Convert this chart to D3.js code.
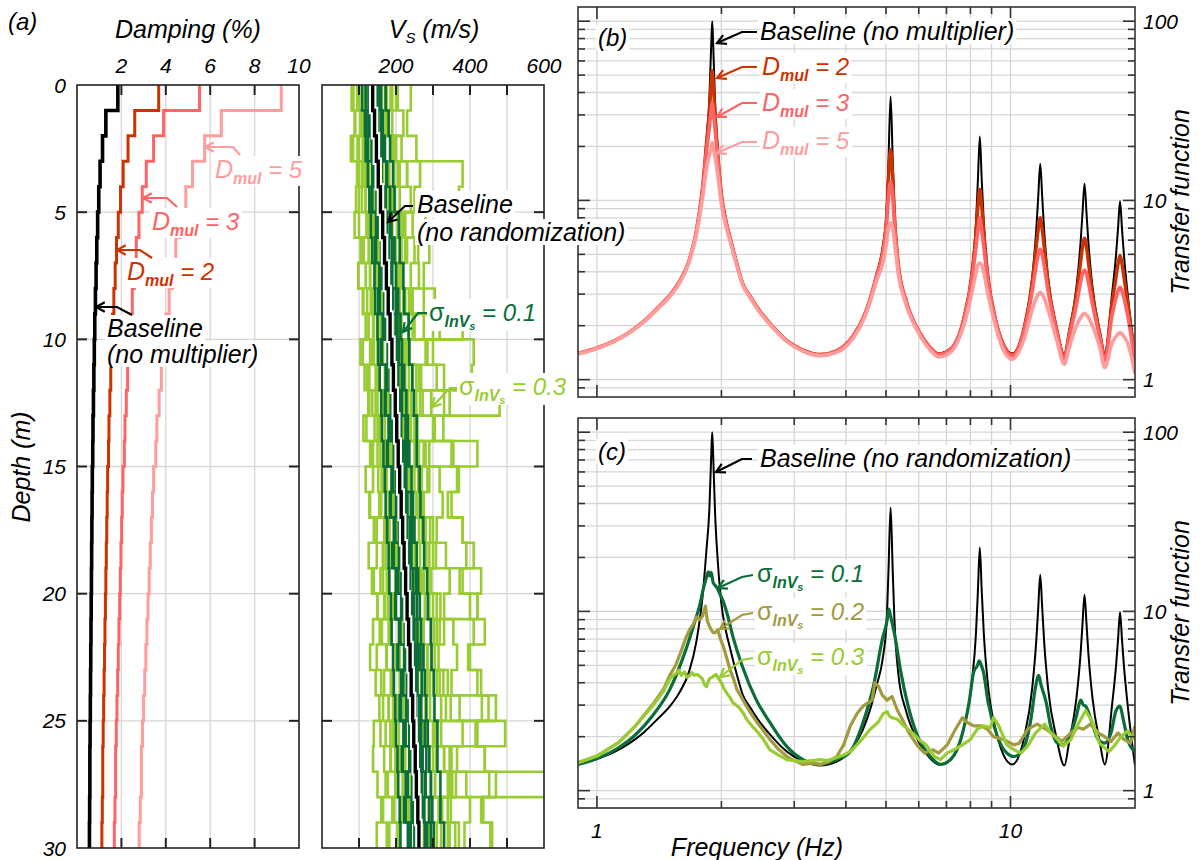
<!DOCTYPE html>
<html>
<head>
<meta charset="utf-8">
<script src="https://cdn.jsdelivr.net/npm/d3@7"></script>
<style>
body{margin:0;background:#fff;}
text{font-family:"Liberation Sans",Arial,sans-serif;font-style:italic;}
</style>
</head>
<body>
<script>
// ---- data ----
var layerDepth = [0,1,2,3,4,5,6,7,8,9,10,11,12,13,14,15,16,17,18,19,20,21,22,23,24,25,26,27,28,29,30];

var dampBase = [1.84,1.30,1.15,1.04,0.98,0.93,0.89,0.86,0.83,0.80,0.78,0.76,0.74,0.72,0.71,0.69,0.68,0.67,0.66,0.65,0.64,0.63,0.62,0.61,0.60,0.59,0.58,0.58,0.57,0.56];
var dampD2 = [3.68,2.60,2.30,2.08,1.96,1.86,1.78,1.72,1.66,1.60,1.56,1.52,1.48,1.44,1.42,1.38,1.36,1.34,1.32,1.30,1.28,1.26,1.24,1.22,1.20,1.18,1.16,1.16,1.14,1.12];
var dampD3 = [5.52,3.90,3.45,3.12,2.94,2.79,2.67,2.58,2.49,2.40,2.34,2.28,2.22,2.16,2.13,2.07,2.04,2.01,1.98,1.95,1.92,1.89,1.86,1.83,1.80,1.77,1.74,1.74,1.71,1.68];
var dampD5 = [9.2,6.5,5.75,5.2,4.9,4.65,4.45,4.3,4.15,4.0,3.9,3.8,3.7,3.6,3.55,3.45,3.4,3.35,3.3,3.25,3.2,3.15,3.1,3.05,3.0,2.95,2.9,2.9,2.85,2.8];

var vsBase = [137,142,147,152,158,164,169,174,179,184,189,193,198,202,206,210,214,218,222,226,230,234,238,241,245,248,252,255,259,262];

// randomized profiles, sigma lnVs = 0.3
var vsSig03 = [
 [85,90,78,95,100,88,105,98,110,120,104,115,125,112,130,118,128,140,126,135,150,138,130,145,155,140,138,150,160,148],
 [100,110,96,108,118,125,112,130,122,140,135,128,145,150,138,152,160,148,165,158,170,162,175,168,180,172,185,178,190,182],
 [115,105,125,118,130,140,128,145,135,150,160,148,165,155,172,168,180,170,185,178,195,188,200,192,205,198,210,200,215,208],
 [120,128,110,380,370,135,150,142,158,165,150,170,178,160,185,175,190,182,198,205,190,210,200,215,222,208,225,218,230,238],
 [130,145,138,150,142,160,170,158,175,168,185,178,195,188,205,196,210,220,205,225,215,235,226,240,230,250,238,255,248,262],
 [150,135,155,165,150,170,160,180,172,190,410,405,200,215,205,225,215,235,228,245,236,250,242,258,250,265,256,270,262,280],
 [160,150,170,165,180,175,195,185,205,198,215,208,480,225,235,228,245,238,255,248,265,258,275,268,280,275,290,650,295,288],
 [155,170,160,180,190,178,198,205,192,215,225,210,232,240,228,250,258,245,265,430,420,275,268,285,292,280,300,306,295,310],
 [175,165,185,195,180,205,215,200,225,235,220,245,255,240,262,270,258,280,290,275,300,310,296,318,470,310,330,340,325,345],
 [190,180,200,210,195,220,230,215,240,250,236,262,272,258,280,290,275,300,308,295,320,330,315,340,348,495,350,362,348,370],
 [205,220,200,230,240,225,250,262,245,275,285,268,295,305,290,318,326,310,335,345,330,355,365,350,372,380,365,390,400,385],
 [240,230,255,265,250,280,290,275,305,318,300,330,345,328,355,365,350,380,390,372,400,410,395,420,432,415,440,452,436,460],
 [98,104,112,100,118,124,112,130,138,126,140,148,136,155,150,162,156,170,165,175,168,180,174,186,180,192,186,198,192,204],
 [170,178,190,182,196,205,192,212,220,208,226,235,222,240,250,236,255,262,250,270,278,265,285,292,280,300,308,295,315,322],
 [125,118,132,140,128,148,155,142,162,170,158,175,182,170,190,196,184,202,210,198,215,222,210,228,235,222,240,246,235,250],
 [145,155,140,160,172,160,178,188,175,195,202,190,210,218,205,225,232,220,240,248,235,255,262,250,268,275,262,280,288,275],
 [95,105,100,112,108,120,126,118,132,138,130,145,150,142,158,162,155,168,172,165,178,182,175,188,192,185,198,202,195,208],
 [185,172,195,205,190,215,225,210,235,245,232,255,265,250,275,285,270,292,300,288,310,318,305,328,335,322,345,352,340,360],
 [200,190,215,230,210,245,260,240,275,300,280,310,330,300,350,370,340,380,410,380,420,440,400,430,450,420,440,470,430,455],
 [80,88,84,95,92,100,105,98,112,118,110,122,128,120,132,138,130,142,148,140,150,156,148,160,165,158,168,172,165,175],
 [150,165,158,175,168,190,200,185,210,380,200,225,240,225,420,260,245,270,282,265,290,302,285,310,322,305,330,345,320,340],
 [110,122,115,128,135,125,142,150,138,158,165,152,172,180,168,188,195,182,202,208,196,215,222,210,228,235,222,240,246,235]
];

// randomized profiles, sigma lnVs = 0.1
var vsSig01 = [
 [118,126,124,136,134,146,144,155,152,164,160,172,170,180,176,188,184,194,190,200,198,208,204,214,210,220,216,226,222,232],
 [128,130,140,138,148,150,160,158,168,170,178,176,186,184,194,192,200,198,208,206,214,212,222,220,228,226,236,232,242,240],
 [132,140,138,150,148,158,166,164,172,180,178,186,194,190,198,206,202,210,218,214,222,230,226,234,240,236,244,250,246,254],
 [144,150,148,160,166,164,178,176,188,186,198,196,208,206,216,214,224,222,232,230,240,238,248,246,254,252,262,260,270,268],
 [150,152,162,160,172,176,178,190,188,200,202,206,216,214,224,226,230,238,236,246,248,250,260,258,266,268,272,278,276,284],
 [156,160,166,174,172,184,190,188,200,204,208,216,214,226,230,228,240,244,242,254,256,258,266,270,268,278,282,280,290,294],
 [128,120,134,140,136,150,146,160,156,166,162,176,172,182,178,190,186,196,194,204,200,210,206,216,214,222,218,230,226,236],
 [148,150,158,160,170,172,182,182,192,192,202,204,212,212,220,222,230,230,238,238,246,246,254,254,262,262,268,270,276,278],
 [126,136,142,144,152,156,162,166,172,174,182,184,190,192,198,200,204,208,212,216,220,224,226,230,234,236,240,244,246,250],
 [160,164,170,176,184,188,196,200,206,212,216,222,228,232,236,242,246,250,256,260,264,268,274,278,282,286,290,294,298,302],
 [172,180,184,192,196,208,210,220,222,234,236,244,248,256,256,264,266,274,276,284,286,294,296,302,304,312,312,320,320,330],
 [108,116,118,124,128,132,136,142,144,150,152,156,160,162,166,170,172,176,180,182,186,188,192,194,198,200,204,206,210,212]
];

// transfer functions, panel (b)
var freqB = [0.9,1.0,1.1,1.2,1.3,1.4,1.5,1.58,1.67,1.74,1.8,1.84,1.87,1.89,1.9,1.91,1.93,1.96,2.0,2.05,2.1,2.17,2.25,2.35,2.45,2.62,2.88,3.15,3.46,3.8,
 4.16,4.4,4.58,4.75,4.9,5.02,5.07,5.13,5.19,5.24,5.36,5.6,
 6.05,6.4,6.7,7.16,
 7.7,8.06,8.25,8.34,8.43,8.52,8.62,8.81,9.2,9.6,10.1,
 10.8,11.28,11.54,11.67,11.8,11.93,12.06,12.33,12.9,13.5,
 13.85,14.44,14.77,14.93,15.1,15.27,15.43,15.78,16.45,16.9,
 17.6,18.0,18.2,18.4,18.6,18.8,19.2,20];
var tfBase = [1.40,1.50,1.64,1.84,2.12,2.5,2.95,3.5,4.6,6.8,12,22,37,75,100,75,36,19,11,7.8,6.2,4.6,3.45,2.9,2.5,2.06,1.65,1.46,1.38,1.45,
 1.75,2.2,2.85,3.9,5.3,9,17,38,17,9,4.4,2.75,
 1.81,1.51,1.40,1.49,
 2.2,4.0,7.5,13,22.7,13,7.5,4.0,2.2,1.6,1.40,
 2.0,3.7,6.8,10.5,16,10.5,6.8,3.7,2.0,1.38,
 1.85,3.3,5.8,8.5,12.4,8.5,5.8,3.3,1.85,1.40,
 3.0,5.0,7.0,9.9,7.0,5.0,3.0,1.38];
var tfD2 = [1.40,1.50,1.64,1.84,2.12,2.5,2.95,3.5,4.6,6.75,11.7,20.6,31,46,53,46,30,18.2,10.8,7.7,6.15,4.6,3.45,2.9,2.5,2.06,1.65,1.46,1.38,1.45,
 1.75,2.2,2.84,3.86,5.15,8.3,13.4,19.2,13.4,8.3,4.3,2.73,
 1.81,1.51,1.39,1.48,
 2.17,3.83,6.5,9.2,11.5,9.2,6.5,3.83,2.17,1.58,1.38,
 1.96,3.44,5.5,6.9,8.0,6.9,5.5,3.44,1.96,1.35,
 1.79,3.0,4.5,5.5,6.15,5.5,4.5,3.0,1.79,1.35,
 2.65,3.76,4.43,4.95,4.43,3.76,2.65,1.32];
var tfD3 = [1.40,1.50,1.64,1.84,2.12,2.5,2.95,3.5,4.58,6.7,11.3,18.7,25.6,32,35,32,25,16.8,10.4,7.6,6.1,4.55,3.43,2.88,2.48,2.05,1.64,1.45,1.37,1.44,
 1.74,2.18,2.82,3.8,4.9,7.5,10.5,12.7,10.5,7.5,4.18,2.7,
 1.79,1.5,1.38,1.47,
 2.12,3.58,5.5,6.8,8.0,6.8,5.5,3.58,2.12,1.55,1.36,
 1.89,3.1,4.35,4.98,5.35,4.98,4.35,3.1,1.89,1.31,
 1.71,2.64,3.49,3.9,4.08,3.9,3.49,2.64,1.71,1.28,
 2.28,2.87,3.13,3.28,3.13,2.87,2.28,1.25];
var tfD5 = [1.39,1.49,1.63,1.83,2.1,2.47,2.9,3.42,4.5,6.45,10.3,15,17.9,19.7,21,19.7,17.6,13.8,9.5,7.2,5.9,4.45,3.38,2.85,2.45,2.03,1.63,1.44,1.36,1.42,
 1.7,2.12,2.72,3.6,4.37,5.9,7.0,7.5,7.0,5.9,3.82,2.6,
 1.75,1.46,1.34,1.42,
 1.99,3.03,3.95,4.37,4.46,4.37,3.95,3.03,1.99,1.47,1.30,
 1.7,2.45,2.85,3.0,3.07,3.0,2.85,2.45,1.7,1.22,
 1.5,2.0,2.22,2.3,2.34,2.3,2.22,2.0,1.5,1.17,
 1.6,1.74,1.8,1.83,1.8,1.74,1.6,1.08];

// transfer functions, panel (c): randomized Vs
var freqS1 = [0.9,1.0,1.13,1.24,1.36,1.5,1.64,1.72,1.77,1.81,1.84,1.86,1.875,1.89,1.91,1.94,1.96,1.99,2.01,2.06,2.13,2.25,2.43,2.62,2.88,3.15,3.46,3.8,4.1,4.4,4.66,4.9,5.03,5.08,5.12,5.17,5.27,5.43,5.63,5.97,6.4,6.77,7.16,7.58,7.94,8.15,8.32,8.4,8.5,8.6,8.83,9.3,9.8,10.2,10.7,11.2,11.5,11.7,11.85,12.2,12.5,13.0,13.4,14.0,14.4,14.8,15.0,15.2,15.6,16.3,16.9,17.5,18.0,18.4,18.7,19.2,20];
var tfS1 = [1.40,1.51,1.74,2.05,2.6,3.66,6.1,8.6,10.7,13.5,15.5,16.6,15.8,16.5,14.5,13.8,13.3,12.3,11.7,9.9,7.3,4.9,3.2,2.4,1.76,1.49,1.40,1.49,1.65,2.4,3.8,7.0,8.9,10.3,9.6,8.7,7.0,4.6,3.1,2.0,1.55,1.40,1.49,1.93,3.1,4.6,5.0,5.3,5.0,4.6,3.1,2.0,1.62,1.55,1.69,2.49,3.8,4.4,3.9,3.1,2.3,1.84,1.8,2.1,2.55,3.2,3.0,2.96,2.55,1.93,1.84,2.1,2.8,2.96,2.55,1.93,1.65];
var freqS2 = [0.9,1.0,1.13,1.24,1.36,1.45,1.5,1.55,1.58,1.61,1.64,1.68,1.71,1.74,1.77,1.8,1.83,1.85,1.87,1.89,1.91,1.93,1.96,1.99,2.02,2.06,2.1,2.14,2.18,2.24,2.3,2.37,2.44,2.53,2.62,2.75,2.88,3.0,3.15,3.3,3.47,3.63,3.8,3.95,4.1,4.26,4.4,4.53,4.63,4.7,4.8,4.9,5.03,5.17,5.33,5.48,5.68,5.97,6.2,6.5,6.7,7.03,7.36,7.65,7.86,8.15,8.5,8.8,9.1,9.6,10.2,10.5,11.0,11.6,12.2,12.9,13.3,14.0,14.6,15.0,15.6,16.3,16.9,17.5,18.2,18.8,19.5,20];
var tfS2 = [1.43,1.56,1.86,2.3,3.0,3.7,4.4,5.0,5.6,6.3,7.1,8.0,8.5,9.3,9.0,9.4,10.7,8.8,8.3,7.9,7.6,7.6,7.9,7.0,6.4,5.5,4.7,4.2,3.66,3.3,2.95,2.65,2.4,2.15,1.93,1.7,1.55,1.47,1.40,1.42,1.40,1.45,1.55,1.8,2.3,2.7,2.96,3.1,3.2,4.0,3.8,3.4,3.2,3.35,2.8,2.49,2.1,1.77,1.62,1.69,1.62,1.8,2.2,2.55,2.4,2.3,2.3,2.2,2.0,1.93,1.8,1.84,2.2,2.35,2.2,2.0,1.88,2.1,2.25,2.2,2.35,2.1,2.0,1.88,2.1,1.93,1.84,2.3];
var freqS3 = [0.9,1.0,1.13,1.24,1.36,1.45,1.5,1.55,1.58,1.6,1.63,1.65,1.67,1.7,1.72,1.75,1.78,1.8,1.82,1.84,1.87,1.9,1.94,1.97,2.0,2.03,2.06,2.1,2.13,2.17,2.21,2.26,2.3,2.37,2.44,2.52,2.62,2.75,2.88,3.0,3.15,3.3,3.47,3.6,3.8,3.95,4.1,4.33,4.58,4.78,4.93,5.03,5.1,5.17,5.33,5.52,5.8,6.0,6.25,6.55,6.77,7.03,7.3,7.65,8.0,8.3,8.6,8.93,9.1,9.37,9.8,10.2,10.6,11.0,11.5,12.1,12.5,13.0,13.4,14.0,14.5,15.2,15.8,16.4,17.3,17.8,18.5,19.2,20];
var tfS3 = [1.43,1.56,1.86,2.3,2.95,3.6,4.2,4.5,4.7,4.4,4.6,4.3,4.35,4.55,4.4,4.45,4.3,4.2,3.9,3.8,4.2,4.3,4.45,4.2,4.0,3.7,3.5,3.3,3.1,3.0,2.9,2.7,2.5,2.3,2.14,1.95,1.69,1.58,1.49,1.47,1.45,1.47,1.49,1.47,1.53,1.58,1.65,1.88,2.2,2.4,2.7,2.76,2.6,2.55,2.5,2.3,2.1,1.93,1.8,1.55,1.49,1.62,1.69,1.8,1.93,2.2,2.3,2.25,2.55,2.3,1.8,1.69,1.62,1.77,2.1,2.35,2.1,1.93,1.77,1.93,2.3,2.8,2.4,1.84,1.65,1.77,2.0,2.15,1.93];

// axis ticks / labels
var depthTicks = [0,5,10,15,20,25,30];
var dampGrid = [2,4,6,8];
var dampLabels = [2,4,6,8,10];
var vsGrid = [100,200,300,400,500];
var vsLabels = [200,400,600];
var tfLabels = [1,10,100];
var freqLabels = [1,10];

// ---- colours ----
var cBase = "#000", cD2 = "#cc3300", cD3 = "#ff6464", cD5 = "#ff9d9d";
var cS1 = "#0b6e38", cS2 = "#a19b3e", cS3 = "#99cc33";
var gridCol = "#d6d6d6";

var svg = d3.select("body").append("svg")
	.attr("width", 1203)
	.attr("height", 860)
	.style("background", "#fff");

var yDepth = d3.scaleLinear().domain([0,30]).range([85,848]);
var xDamp = d3.scaleLinear().domain([0,10]).range([77,299]);
var xVs = d3.scaleLinear().domain([0,600]).range([322,544]);
var xF = d3.scaleLog().domain([0.9,20]).range([578,1135]);
var yB = d3.scaleLog().domain([0.8,120]).range([397,7]);
var yC = d3.scaleLog().domain([0.8,120]).range([808,418]);

function stepPoints(vals){
	var pts = [];
	vals.forEach(function(v,i){
		pts.push([v, layerDepth[i]]);
		pts.push([v, layerDepth[i+1]]);
	});
	return pts;
};

// ---------- depth panels ----------
function depthPanel(xs, grid, id){
	var x0 = xs.range()[0], x1 = xs.range()[1], y0 = yDepth.range()[0], y1 = yDepth.range()[1];
	var g = svg.append("g");
	g.selectAll(".vg").data(grid).enter().append("line")
		.attr("x1", function(d){return xs(d);}).attr("x2", function(d){return xs(d);})
		.attr("y1", y0).attr("y2", y1)
		.attr("stroke", gridCol).attr("stroke-width", 1.3);
	g.selectAll(".hg").data(depthTicks.slice(1,-1)).enter().append("line")
		.attr("x1", x0).attr("x2", x1)
		.attr("y1", function(d){return yDepth(d);}).attr("y2", function(d){return yDepth(d);})
		.attr("stroke", gridCol).attr("stroke-width", 1.3);
	svg.append("clipPath").attr("id", id).append("rect")
		.attr("x", x0).attr("y", y0).attr("width", x1-x0).attr("height", y1-y0);
	return g.append("g").attr("clip-path", "url(#"+id+")");
};

function depthFrame(xs, grid){
	var x0 = xs.range()[0], x1 = xs.range()[1], y0 = yDepth.range()[0], y1 = yDepth.range()[1];
	var g = svg.append("g").attr("stroke", "#222").attr("stroke-width", 2);
	grid.forEach(function(d){
		g.append("line").attr("x1", xs(d)).attr("x2", xs(d)).attr("y1", y0).attr("y2", y0+10);
		g.append("line").attr("x1", xs(d)).attr("x2", xs(d)).attr("y1", y1).attr("y2", y1-10);
	});
	depthTicks.slice(1,-1).forEach(function(d){
		g.append("line").attr("x1", x0).attr("x2", x0+10).attr("y1", yDepth(d)).attr("y2", yDepth(d));
		g.append("line").attr("x1", x1).attr("x2", x1-10).attr("y1", yDepth(d)).attr("y2", yDepth(d));
	});
	g.append("rect").attr("x", x0).attr("y", y0).attr("width", x1-x0).attr("height", y1-y0)
		.attr("fill", "none").attr("stroke-width", 1.6);
};

var dampG = depthPanel(xDamp, dampGrid, "clipDamp");
var dampLine = d3.line()
	.x(function(d){return xDamp(d[0]);})
	.y(function(d){return yDepth(d[1]);});
[[dampD5,cD5,3],[dampD3,cD3,3],[dampD2,cD2,3],[dampBase,cBase,3.6]].forEach(function(s){
	dampG.append("path").attr("d", dampLine(stepPoints(s[0])))
		.attr("fill","none").attr("stroke", s[1]).attr("stroke-width", s[2]);
});
depthFrame(xDamp, dampGrid);

var vsG = depthPanel(xVs, vsGrid, "clipVs");
var vsLine = d3.line()
	.x(function(d){return xVs(d[0]);})
	.y(function(d){return yDepth(d[1]);});
vsSig03.forEach(function(p){
	vsG.append("path").attr("d", vsLine(stepPoints(p)))
		.attr("fill","none").attr("stroke", cS3).attr("stroke-width", 2.6);
});
vsSig01.forEach(function(p){
	vsG.append("path").attr("d", vsLine(stepPoints(p)))
		.attr("fill","none").attr("stroke", cS1).attr("stroke-width", 2.6);
});
vsG.append("path").attr("d", vsLine(stepPoints(vsBase)))
	.attr("fill","none").attr("stroke", "#fff").attr("stroke-width", 7.5);
vsG.append("path").attr("d", vsLine(stepPoints(vsBase)))
	.attr("fill","none").attr("stroke", "#000").attr("stroke-width", 3.4);
depthFrame(xVs, vsGrid);

// depth axis labels
svg.append("g").selectAll("text").data(depthTicks).enter().append("text")
	.attr("x", 66).attr("y", function(d){return yDepth(d);}).attr("dy", "0.36em")
	.attr("text-anchor", "end").attr("font-size", 21).text(function(d){return d;});
svg.append("g").selectAll("text").data(dampLabels).enter().append("text")
	.attr("x", function(d){return xDamp(d);}).attr("y", 73)
	.attr("text-anchor", "middle").attr("font-size", 21).text(function(d){return d;});
svg.append("g").selectAll("text").data(vsLabels).enter().append("text")
	.attr("x", function(d){return xVs(d);}).attr("y", 73)
	.attr("text-anchor", "middle").attr("font-size", 21).text(function(d){return d;});

svg.append("text").attr("x", 188).attr("y", 38).attr("text-anchor", "middle")
	.attr("font-size", 25).text("Damping (%)");
var vsT = svg.append("text").attr("x", 434).attr("y", 38).attr("text-anchor", "middle").attr("font-size", 25);
vsT.append("tspan").text("V");
vsT.append("tspan").attr("font-size", 15).attr("dy", 5).text("S");
vsT.append("tspan").attr("dy", -5).text(" (m/s)");
svg.append("text").attr("transform", "translate(30,467) rotate(-90)").attr("text-anchor", "middle")
	.attr("font-size", 25).text("Depth (m)");
svg.append("text").attr("x", 8).attr("y", 30).attr("font-size", 24).text("(a)");

// ---------- transfer function panels ----------
var fTicks = xF.ticks().filter(function(d){return d >= 0.95 && d <= 19.9;});
var isMajor = function(d){var l = Math.log10(d); return Math.abs(l - Math.round(l)) < 1e-6;};

function tfPanel(ys, id){
	var x0 = xF.range()[0], x1 = xF.range()[1], y0 = ys.range()[1], y1 = ys.range()[0];
	var yTicks = ys.ticks().filter(function(d){return d > 0.85 && d < 119;});
	var g = svg.append("g");
	g.selectAll(".vg").data(fTicks).enter().append("line")
		.attr("x1", function(d){return xF(d);}).attr("x2", function(d){return xF(d);})
		.attr("y1", y0).attr("y2", y1).attr("stroke", gridCol).attr("stroke-width", 1.3);
	g.selectAll(".hg").data(yTicks).enter().append("line")
		.attr("x1", x0).attr("x2", x1)
		.attr("y1", function(d){return ys(d);}).attr("y2", function(d){return ys(d);})
		.attr("stroke", gridCol).attr("stroke-width", 1.3);
	svg.append("clipPath").attr("id", id).append("rect")
		.attr("x", x0).attr("y", y0).attr("width", x1-x0).attr("height", y1-y0);
	var inner = g.append("g").attr("clip-path", "url(#"+id+")");
	var fr = svg.append("g").attr("stroke", "#333").attr("stroke-width", 1.6);
	yTicks.forEach(function(d){
		var L = isMajor(d) ? 12 : 7;
		fr.append("line").attr("x1", x0).attr("x2", x0+L).attr("y1", ys(d)).attr("y2", ys(d));
		fr.append("line").attr("x1", x1).attr("x2", x1-L).attr("y1", ys(d)).attr("y2", ys(d));
	});
	fTicks.forEach(function(d){
		var L = isMajor(d) ? 12 : 7;
		fr.append("line").attr("x1", xF(d)).attr("x2", xF(d)).attr("y1", y0).attr("y2", y0+L);
		fr.append("line").attr("x1", xF(d)).attr("x2", xF(d)).attr("y1", y1).attr("y2", y1-L);
	});
	fr.append("rect").attr("x", x0).attr("y", y0).attr("width", x1-x0).attr("height", y1-y0)
		.attr("fill", "none");
	svg.append("g").selectAll("text").data(tfLabels).enter().append("text")
		.attr("x", x1+8).attr("y", function(d){return ys(d);}).attr("dy", "0.36em")
		.attr("font-size", 21).text(function(d){return d;});
	svg.append("text")
		.attr("transform", "translate(1189," + ((y0+y1)/2) + ") rotate(-90)")
		.attr("text-anchor", "middle").attr("font-size", 25).text("Transfer function");
	return inner;
};

function tfCurve(g, ys, fr, vals, col, w, curve){
	var line = d3.line()
		.x(function(d){return xF(d[0]);})
		.y(function(d){return ys(d[1]);})
		.curve(curve || d3.curveMonotoneX);
	g.append("path").attr("d", line(d3.zip(fr, vals)))
		.attr("fill", "none").attr("stroke", col).attr("stroke-width", w)
		.attr("stroke-linejoin", "round");
};

var bG = tfPanel(yB, "clipB");
tfCurve(bG, yB, freqB, tfBase, cBase, 2);
tfCurve(bG, yB, freqB, tfD2, cD2, 3.4);
tfCurve(bG, yB, freqB, tfD3, cD3, 3.6);
tfCurve(bG, yB, freqB, tfD5, cD5, 3.6);

var cG = tfPanel(yC, "clipC");
tfCurve(cG, yC, freqB, tfBase, cBase, 2);
tfCurve(cG, yC, freqS1, tfS1, cS1, 3.2);
tfCurve(cG, yC, freqS2, tfS2, cS2, 3.2, d3.curveLinear);
tfCurve(cG, yC, freqS3, tfS3, cS3, 3.2, d3.curveLinear);

svg.append("g").selectAll("text").data(freqLabels).enter().append("text")
	.attr("x", function(d){return xF(d);}).attr("y", 838)
	.attr("text-anchor", "middle").attr("font-size", 21).text(function(d){return d;});
svg.append("text").attr("x", 757).attr("y", 856).attr("text-anchor", "middle")
	.attr("font-size", 25).text("Frequency (Hz)");

// ---------- annotations ----------
var noteBg = svg.append("g");
var noteFg = svg.append("g");

function note(x, y, parts, col, size){
	var t = noteFg.append("text").attr("x", x).attr("y", y).attr("fill", col).attr("font-size", size || 25);
	parts.forEach(function(p){
		var s = t.append("tspan").text(p[0]);
		if(p[1]) s.attr("font-size", p[1]);
		if(p[2]) s.attr("dy", p[2]);
		if(p[3]) s.attr("font-weight", p[3]);
		if(p[4]) s.attr("font-style", p[4]);
	});
	var b = t.node().getBBox();
	noteBg.append("rect").attr("x", b.x-2).attr("y", b.y+1).attr("width", b.width+4).attr("height", b.height-2)
		.attr("fill", "#fff");
	return t;
};

function arrow(pts, col){
	noteFg.append("path").attr("d", d3.line()(pts))
		.attr("fill", "none").attr("stroke", col).attr("stroke-width", 2.2);
	var p = pts[pts.length-1], q = pts[pts.length-2];
	var a = Math.atan2(p[1]-q[1], p[0]-q[0]);
	var L = 10, s = 0.5;
	var h1 = [p[0]-L*Math.cos(a-s), p[1]-L*Math.sin(a-s)];
	var h2 = [p[0]-L*Math.cos(a+s), p[1]-L*Math.sin(a+s)];
	noteFg.append("path").attr("d", d3.line()([h1, p, h2]))
		.attr("fill", "none").attr("stroke", col).attr("stroke-width", 2.2);
};

function dmul(v){ return [["D",25],["mul",16,6,"bold"],[" = "+v,24,-6]]; };
function sig(v){ return [["σ",25,0,null,"normal"],["lnV",16,6,"bold"],["s",11,3,"bold"],[" = "+v,24,-9]]; };

// panel (a) damping
note(215, 178, dmul(5), cD5);
arrow([[240,155],[233,147],[205,147]], cD5);
note(152, 230, dmul(3), cD3);
arrow([[177,207],[167,198],[143,198]], cD3);
note(127, 280, dmul(2), cD2);
arrow([[152,258],[140,250],[117,250]], cD2);
note(107, 337, [["Baseline"]], cBase);
note(107, 363, [["(no multiplier)"]], cBase);
arrow([[132,315],[117,307],[96,307]], cBase);

// panel (a) Vs
note(417, 213, [["Baseline"]], cBase);
note(417, 241, [["(no randomization)"]], cBase);
arrow([[413,206],[405,206],[388,222]], cBase);
note(429, 321, sig("0.1"), cS1);
arrow([[427,313],[418,313],[403,332]], cS1);
note(459, 395, sig("0.3"), cS3);
arrow([[457,388],[450,388],[432,407]], cS3);

// panel (b)
note(598, 46, [["(b)"]], "#000", 24);
note(760, 40, [["Baseline (no multiplier)"]], cBase);
arrow([[757,32],[742,32],[717,43]], cBase);
note(762, 75, dmul(2), cD2);
arrow([[757,67],[742,67],[717,78]], cD2);
note(762, 111, dmul(3), cD3);
arrow([[757,103],[742,103],[717,117]], cD3);
note(762, 149, dmul(5), cD5);
arrow([[757,142],[742,142],[717,153]], cD5);

// panel (c)
note(598, 460, [["(c)"]], "#000", 24);
note(760, 467, [["Baseline (no randomization)"]], cBase);
arrow([[752,459],[742,459],[716,472]], cBase);
note(757, 582, sig("0.1"), cS1);
arrow([[753,575],[742,577],[718,588]], cS1);
note(757, 620, sig("0.2"), cS2);
arrow([[753,613],[742,615],[720,629]], cS2);
note(757, 665, sig("0.3"), cS3);
arrow([[753,658],[742,660],[720,677]], cS3);
</script>
</body>
</html>
